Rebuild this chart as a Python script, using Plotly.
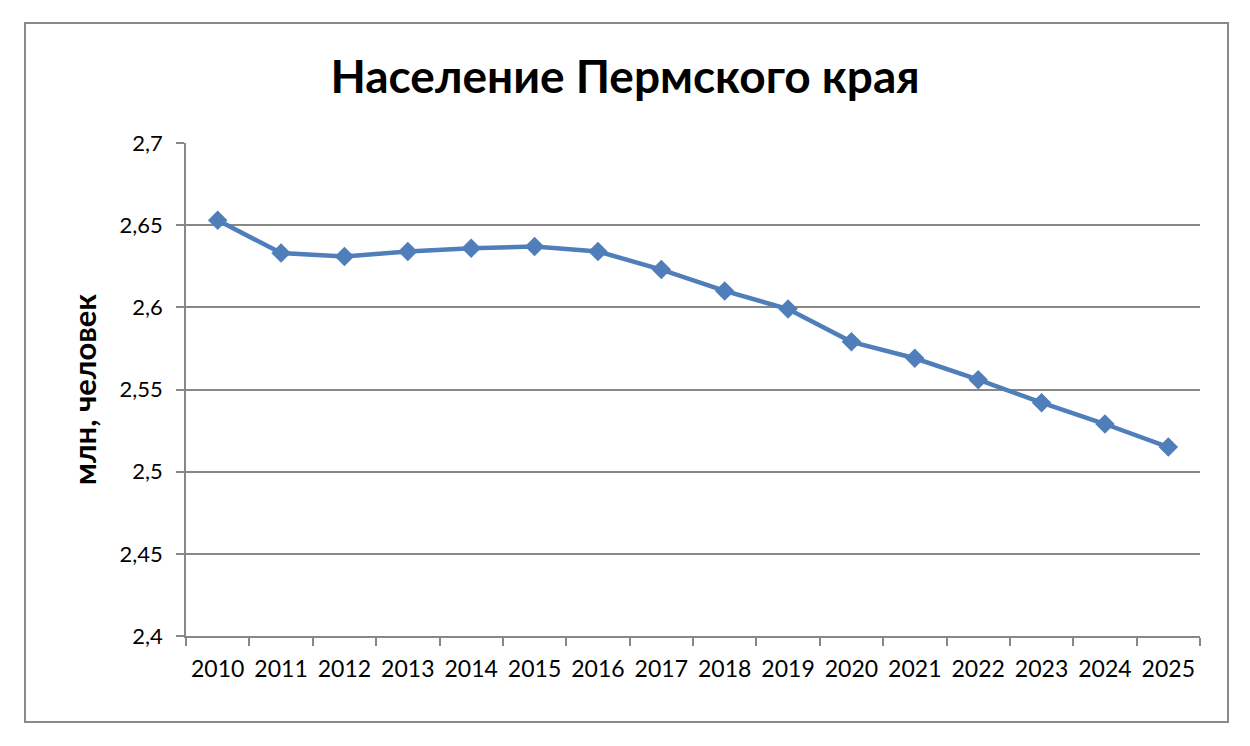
import plotly.graph_objects as go

years = ["2010", "2011", "2012", "2013", "2014", "2015", "2016", "2017",
         "2018", "2019", "2020", "2021", "2022", "2023", "2024", "2025"]
population = [2.653, 2.633, 2.631, 2.634, 2.636, 2.637, 2.634, 2.623,
              2.610, 2.599, 2.579, 2.569, 2.556, 2.542, 2.529, 2.515]

title_text = "Население Пермского края"
y_title = "млн, человек"

FONT = "Lato, Calibri, Carlito, sans-serif"
GRID = "#878787"

fig = go.Figure()
fig.add_trace(go.Scatter(
    x=years, y=population, mode="lines+markers",
    line=dict(color="#4F7EBB", width=4.5),
    marker=dict(symbol="diamond", size=15, color="#4F7EBB"),
    showlegend=False, hoverinfo="x+y",
))

W, H = 1250, 746
L, R, T, B = 186, 50, 143, 110
pw, ph = W - L - R, H - T - B

def px_to_paper_x(x):
    return (x - L) / pw

def px_to_paper_y(y):
    return (H - B - y) / ph

fig.update_layout(
    width=W, height=H,
    margin=dict(l=L, r=R, t=T, b=B),
    paper_bgcolor="white", plot_bgcolor="white",
    separators=", ",
    font=dict(family=FONT, color="black", size=20),
    title=dict(text="<b>" + title_text + "</b>", x=0.5, xanchor="center",
               y=1 - 77 / H, yanchor="middle",
               font=dict(family=FONT, size=46, color="black")),
    xaxis=dict(
        type="category", range=[-0.5, len(years) - 0.5],
        tickson="boundaries", ticks="outside", ticklen=8,
        tickcolor=GRID, tickwidth=1.5, tickangle=0,
        showline=True, linecolor=GRID, linewidth=1.5, mirror=False,
        showgrid=False, tickfont=dict(family=FONT, size=23),
        ticklabelstandoff=12,
        fixedrange=True,
    ),
    yaxis=dict(
        range=[2.4, 2.7], dtick=0.05, tick0=2.4,
        ticks="outside", ticklen=8, tickcolor=GRID, tickwidth=1.5,
        showline=True, linecolor=GRID, linewidth=1.5,
        showgrid=True, gridcolor=GRID, gridwidth=1.5,
        zeroline=False, tickfont=dict(family=FONT, size=22),
        ticklabelstandoff=9,
        title=dict(text="<b>" + y_title + "</b>", standoff=14,
                   font=dict(family=FONT, size=31)),
    ),
    shapes=[dict(
        type="rect", xref="paper", yref="paper",
        x0=px_to_paper_x(25), x1=px_to_paper_x(1228),
        y0=px_to_paper_y(722), y1=px_to_paper_y(23),
        line=dict(color="#8a8a8a", width=2), fillcolor="rgba(0,0,0,0)",
        layer="below",
    )],
)

fig.write_html(
    "out.html",
    config={"displayModeBar": False},
    post_script="document.body.style.margin='0';document.body.style.overflow='hidden';",
)
